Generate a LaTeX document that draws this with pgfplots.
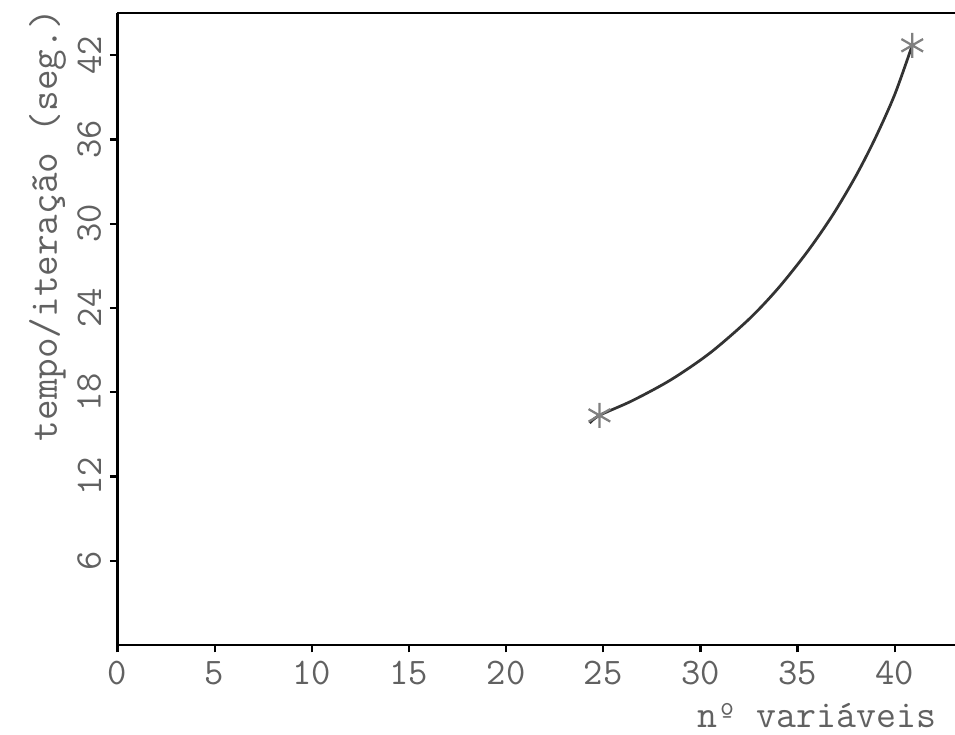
\documentclass[border=0pt]{standalone}
\usepackage{pgfplots}
\pgfplotsset{compat=1.18}
\definecolor{ink}{gray}{0.38}
\definecolor{curve}{gray}{0.2}
\begin{document}
\begin{tikzpicture}
\begin{axis}[
  scale only axis, width=335pt, height=252.8pt,
  xmin=0, xmax=43.1, ymin=0, ymax=45,
  axis x line=box, axis y line=left,
  axis line style={line width=1.1pt, -},
  xtick={0,5,...,40}, ytick={6,12,...,42},
  xtick pos=left, ytick pos=left,
  tick align=outside, major tick length=3pt,
  tick style={black, line width=0.9pt},
  /pgf/number format/assume math mode=true,
  ticklabel style={font=\fontsize{15}{17}\selectfont\ttfamily, text=ink},
  yticklabel style={rotate=90, anchor=south},
  xlabel={n\textordmasculine\ vari\'aveis},
  xlabel style={at={(axis description cs:0.835,-0.112)}, anchor=center, font=\fontsize{15.5}{17}\selectfont\ttfamily, text=ink},
  ylabel={tempo/iteração (seg.)},
  ylabel style={at={(axis description cs:-0.0835,0.665)}, anchor=center, rotate=0, font=\fontsize{16}{18}\selectfont\ttfamily, text=ink},
  clip=false,
]
\addplot[curve, line width=1.1pt, smooth, tension=0.5] coordinates {
  (24.3,15.8) (24.8,16.35) (26.5,17.4) (28.5,18.9) (30.5,20.8) (32.5,23.2)
  (34.0,25.4) (35.5,28.0) (36.8,30.6) (38.0,33.4) (39.0,36.1) (40.0,39.2) (40.9,42.7)
};
\addplot[only marks, mark=asterisk, mark size=5pt, mark options={gray, line width=0.9pt}] coordinates {
  (24.8,16.35) (40.9,42.7)
};
\path (rel axis cs:0,0) coordinate (SW) (rel axis cs:1,1) coordinate (NE);
\end{axis}
\pgfresetboundingbox
\path ([xshift=-47pt,yshift=-36pt]SW) rectangle ([yshift=5.2pt]NE);
\end{tikzpicture}
\end{document}
